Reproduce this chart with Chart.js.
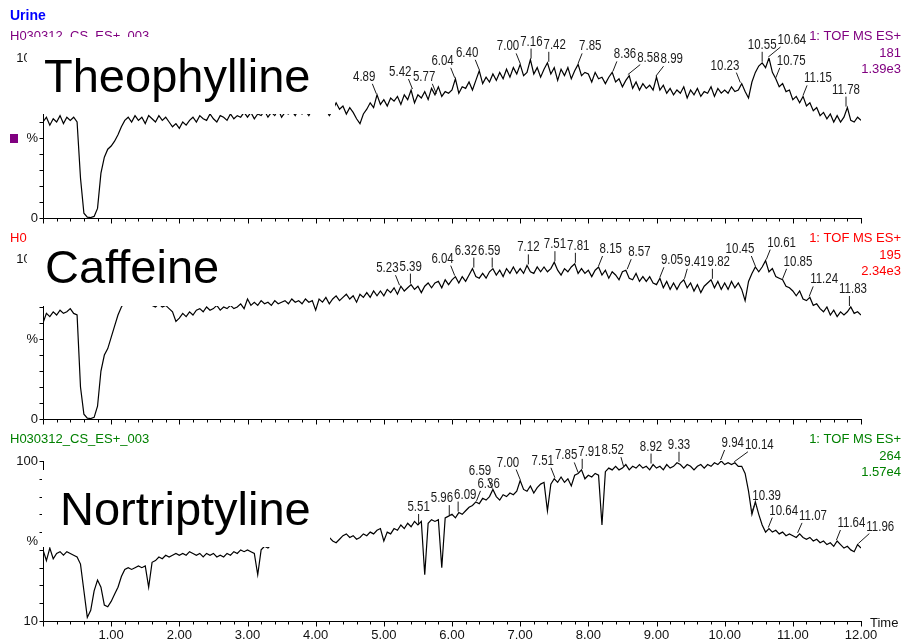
<!DOCTYPE html>
<html>
<head>
<meta charset="utf-8">
<title>Urine - H030312_CS_ES+_003</title>
<script src="https://cdn.jsdelivr.net/npm/chart.js@4.4.1/dist/chart.umd.min.js"></script>
<style>
  html, body { margin: 0; padding: 0; background: #fff; }
  #wrap { position: relative; width: 905px; height: 644px; overflow: hidden; }
  canvas { position: absolute; left: 0; }
</style>
</head>
<body>
<div id="wrap">
  <canvas id="theo" width="905" height="226" style="top:0px"></canvas>
  <canvas id="caff" width="905" height="202" style="top:226px"></canvas>
  <canvas id="nort" width="905" height="216" style="top:428px"></canvas>
</div>
<script>
// scan times, minutes
var times = [
  0.00,0.05,0.10,0.15,0.20,0.25,0.30,0.35,0.40,0.45,0.50,0.55,0.60,0.65,0.70,0.75,0.80,0.85,0.90,0.95,
  1.00,1.05,1.10,1.15,1.20,1.25,1.30,1.35,1.40,1.45,1.50,1.55,1.60,1.65,1.70,1.75,1.80,1.85,1.90,1.95,
  2.00,2.05,2.10,2.15,2.20,2.25,2.30,2.35,2.40,2.45,2.50,2.55,2.60,2.65,2.70,2.75,2.80,2.85,2.90,2.95,
  3.00,3.05,3.10,3.15,3.20,3.25,3.30,3.35,3.40,3.45,3.50,3.55,3.60,3.65,3.70,3.75,3.80,3.85,3.90,3.95,
  4.00,4.05,4.10,4.15,4.20,4.25,4.30,4.35,4.40,4.45,4.50,4.55,4.60,4.65,4.70,4.75,4.80,4.85,4.90,4.95,
  5.00,5.05,5.10,5.15,5.20,5.25,5.30,5.35,5.40,5.45,5.50,5.55,5.60,5.65,5.70,5.75,5.80,5.85,5.90,5.95,
  6.00,6.05,6.10,6.15,6.20,6.25,6.30,6.35,6.40,6.45,6.50,6.55,6.60,6.65,6.70,6.75,6.80,6.85,6.90,6.95,
  7.00,7.05,7.10,7.15,7.20,7.25,7.30,7.35,7.40,7.45,7.50,7.55,7.60,7.65,7.70,7.75,7.80,7.85,7.90,7.95,
  8.00,8.05,8.10,8.15,8.20,8.25,8.30,8.35,8.40,8.45,8.50,8.55,8.60,8.65,8.70,8.75,8.80,8.85,8.90,8.95,
  9.00,9.05,9.10,9.15,9.20,9.25,9.30,9.35,9.40,9.45,9.50,9.55,9.60,9.65,9.70,9.75,9.80,9.85,9.90,9.95,
  10.00,10.05,10.10,10.15,10.20,10.25,10.30,10.35,10.40,10.45,10.50,10.55,10.60,10.65,10.70,10.75,10.80,10.85,10.90,10.95,
  11.00,11.05,11.10,11.15,11.20,11.25,11.30,11.35,11.40,11.45,11.50,11.55,11.60,11.65,11.70,11.75,11.80,11.85,11.90,11.95,
  12.00
];

// relative intensity, %
var theophylline = [
  60,63,58,62,60,64,59,63,61,63,60,25,3,0.5,0.3,1,6,28,38,43,
  45,48,52,57,61,63,60,64,61,63,59,64,62,60,64,61,63,60,57,59,
  56,60,58,61,63,60,64,62,61,65,62,60,64,63,61,65,62,64,63,66,
  63,66,62,65,64,67,63,66,64,68,63,66,65,67,64,68,65,67,64,68,
  66,69,67,68,64,67,72,68,70,65,69,66,62,59,65,68,72,69,77,71,
  74,70,75,73,76,71,77,74,80,72,77,75,79,74,81,77,82,76,79,78,
  80,87,78,82,81,85,80,86,92,84,88,85,90,86,91,87,93,88,94,90,
  96,89,91,99,90,94,88,93,97,90,94,86,93,89,94,87,92,96,89,91,
  90,85,91,87,88,84,88,91,85,87,82,86,89,81,85,80,84,81,83,80,
  88,80,83,78,81,77,80,78,82,75,80,77,81,76,79,78,82,76,81,78,
  80,78,82,79,80,84,79,75,85,91,95,97,94,100,91,87,82,84,79,80,
  74,76,72,76,70,72,67,69,64,66,62,65,60,64,60,63,69,61,60,63,
  61
];
var caffeine = [
  60,66,64,67,65,68,66,67,69,66,65,20,3,0.5,0.3,1,8,30,40,44,
  51,58,65,70,73,75,74,76,75,77,74,72,71,70,72,70,71,69,67,61,
  63,66,64,67,65,68,69,67,70,68,69,71,68,70,69,71,69,70,72,69,
  75,71,73,71,74,72,73,71,74,72,73,74,72,75,73,74,72,75,73,74,
  68,75,73,76,72,75,77,74,76,78,75,77,73,78,76,79,76,80,77,80,
  77,81,79,82,78,83,80,82,84,81,83,79,83,85,82,85,86,82,87,84,
  87,89,85,89,86,90,94,89,88,91,88,92,94,90,93,89,94,91,95,91,
  94,91,96,92,91,95,92,95,92,94,98,93,90,94,92,95,97,91,94,91,
  93,89,93,95,90,93,88,92,90,87,92,93,88,87,91,86,89,86,89,85,
  84,88,82,86,81,85,81,85,87,82,85,80,84,79,83,85,87,82,86,81,
  85,81,86,82,85,81,74,86,91,95,92,95,99,92,94,89,88,87,83,82,
  80,77,80,75,74,76,71,72,69,67,70,65,68,64,67,65,67,70,66,67,
  65
];
var nortriptyline = [
  50,44,51,45,48,49,47,49,48,47,46,42,27,12,16,27,33,29,19,18,
  21,25,29,35,39,40,39,40,41,40,41,29,43,44,46,45,47,46,47,48,
  47,48,47,49,48,47,48,46,48,47,48,46,47,46,48,47,49,48,50,49,
  50,49,48,36,50,52,51,53,52,54,53,55,54,53,55,54,56,55,54,56,
  55,57,56,54,57,55,54,56,58,59,57,58,56,57,59,58,60,59,61,62,
  55,60,59,62,61,64,62,65,63,66,64,66,36,65,67,66,67,40,68,69,
  70,68,71,70,72,74,75,77,76,79,78,80,84,80,78,81,80,82,81,83,
  89,84,83,86,82,85,87,88,72,87,90,88,91,88,90,86,92,93,95,90,
  92,91,93,92,64,94,96,95,97,95,96,98,95,97,96,98,96,97,95,98,
  96,97,95,98,96,97,99,98,96,98,97,95,97,98,96,98,97,99,98,100,
  98,99,98,99,97,97,93,83,70,77,70,64,60,62,60,61,59,60,58,59,
  58,57,59,57,56,57,55,56,54,55,53,54,52,55,53,51,52,50,49,53,
  51
];

// labelled peaks (retention time)
var theoPeaks = [4.89,5.42,5.77,6.04,6.40,7.00,7.16,7.42,7.85,8.36,8.58,8.99,10.23,10.55,10.64,10.75,11.15,11.78];
var caffPeaks = [5.23,5.39,6.04,6.32,6.59,7.12,7.51,7.81,8.15,8.57,9.05,9.41,9.82,10.45,10.61,10.85,11.24,11.83];
var nortPeaks = [5.51,5.96,6.09,6.36,6.59,7.00,7.51,7.85,7.91,8.52,8.92,9.33,9.94,10.14,10.39,10.64,11.07,11.64,11.96];

var FONT = '"Liberation Sans", Arial, sans-serif';
var SQUEEZE = 0.82;

function meanBetween(values, t0, t1) {
  var s = 0, n = 0;
  for (var i = 0; i < times.length; i++) {
    if (times[i] >= t0 && times[i] <= t1) { s += values[i]; n++; }
  }
  return n ? s / n : null;
}

function peakLabels(chart, peaks, values) {
  var ctx = chart.ctx, xs = chart.scales.x, ys = chart.scales.y;
  ctx.font = '14px ' + FONT;
  ctx.fillStyle = '#1a1a1a';
  ctx.strokeStyle = '#1a1a1a';
  ctx.lineWidth = 1;
  ctx.textAlign = 'left';
  ctx.textBaseline = 'alphabetic';
  var placed = [];
  peaks.forEach(function (t) {
    var best = -1;
    for (var i = 0; i < times.length; i++) {
      if (Math.abs(times[i] - t) <= 0.03 && (best < 0 || values[i] > values[best])) best = i;
    }
    var px = xs.getPixelForValue(t);
    var py = ys.getPixelForValue(values[best]);
    var txt = t.toFixed(2);
    var w = ctx.measureText(txt).width * SQUEEZE;
    // text leans away from the rising/falling side of the trace
    var behind = meanBetween(values, t - 0.6, t), ahead = meanBetween(values, t, t + 0.6);
    var d = (ahead !== null && behind !== null) ? ahead - behind : 0;
    var left;
    if (d > 2.5) left = px - w - 1;
    else if (d < -2.5) left = px + 1;
    else left = px - w / 2;
    var base = py - 14;
    placed.forEach(function (b) {
      if (left < b.r + 1 && left + w > b.l && base > b.b - 11 && base - 11 < b.b) left = b.r + 1;
    });
    placed.push({ l: left, r: left + w, b: base });
    ctx.save();
    ctx.translate(left, base);
    ctx.scale(SQUEEZE, 1);
    ctx.fillText(txt, 0, 0);
    ctx.restore();
    var lx = Math.min(Math.max(px, left + 3), left + w - 3);
    ctx.beginPath();
    ctx.moveTo(lx, base + 3);
    ctx.lineTo(px, py - 1);
    ctx.stroke();
  });
}

var chromoPlugin = {
  id: 'chromo',
  afterDraw: function (chart, args, o) {
    var ctx = chart.ctx, xs = chart.scales.x, ys = chart.scales.y, a = chart.chartArea;
    var top = o.pageTop;
    ctx.save();

    // axes
    ctx.strokeStyle = '#000';
    ctx.lineWidth = 1;
    ctx.beginPath();
    var L = Math.round(a.left) + 0.5, B = Math.round(a.bottom) + 0.5;
    ctx.moveTo(L, Math.round(a.top));
    ctx.lineTo(L, B);
    ctx.lineTo(Math.round(a.right) + 1, B);
    xs.ticks.forEach(function (tk) {
      var px = Math.round(xs.getPixelForValue(tk.value)) + 0.5;
      var major = Math.abs(tk.value - Math.round(tk.value)) < 1e-6;
      ctx.moveTo(px, B);
      ctx.lineTo(px, B + (major ? 5 : 3));
    });
    ys.ticks.forEach(function (tk) {
      var py = Math.round(ys.getPixelForValue(tk.value)) + 0.5;
      ctx.moveTo(L, py);
      ctx.lineTo(L - 4, py);
    });
    ctx.stroke();

    // y labels
    ctx.fillStyle = '#111';
    ctx.font = '13px ' + FONT;
    ctx.textAlign = 'right';
    ctx.textBaseline = 'middle';
    ctx.fillText(String(ys.max), 38, ys.getPixelForValue(ys.max));
    ctx.fillText(String(ys.min), 38, ys.getPixelForValue(ys.min));
    ctx.fillText('%', 38, ys.getPixelForValue((ys.min + ys.max) / 2));

    // x labels
    if (o.xLabels) {
      ctx.textAlign = 'center';
      ctx.textBaseline = 'alphabetic';
      xs.ticks.forEach(function (tk) {
        var v = tk.value;
        if (v >= 1 && Math.abs(v - Math.round(v)) < 1e-6) {
          ctx.fillText(Math.round(v).toFixed(2), xs.getPixelForValue(v), 639 - top);
        }
      });
      ctx.textAlign = 'left';
      ctx.fillText('Time', 870, 627 - top);
    }

    // peak labels
    peakLabels(chart, o.peaks, o.values);

    // header texts
    ctx.textBaseline = 'alphabetic';
    if (o.title) {
      ctx.fillStyle = '#0000ff';
      ctx.font = 'bold 14px ' + FONT;
      ctx.textAlign = 'left';
      ctx.fillText(o.title, 10, 20 - top);
    }
    ctx.fillStyle = o.color;
    ctx.font = '13px ' + FONT;
    ctx.textAlign = 'left';
    ctx.fillText(o.sample, 10, o.headY - top);
    ctx.textAlign = 'right';
    o.right.forEach(function (s, i) {
      ctx.fillText(s, 901, o.headY - top + i * 16.5);
    });
    if (o.marker) {
      ctx.fillRect(10, 134 - top, 8, 9);
    }

    // compound name on a white box
    var bx = o.box;
    ctx.fillStyle = '#fff';
    ctx.fillRect(bx[0], bx[1] - top, bx[2] - bx[0], bx[3] - bx[1]);
    ctx.fillStyle = '#000';
    ctx.font = '47px ' + FONT;
    ctx.textAlign = 'left';
    ctx.fillText(o.name, o.nameX, o.nameY - top);

    ctx.restore();
  }
};

function makePanel(id, pageTop, areaTop, areaBottom, ymin, ymax, values, opts) {
  var canvas = document.getElementById(id);
  var H = canvas.height;
  var pts = values.map(function (v, i) { return { x: times[i], y: v }; });
  opts.pageTop = pageTop;
  opts.values = values;
  return new Chart(canvas, {
    type: 'line',
    data: {
      datasets: [{
        data: pts,
        borderColor: '#000',
        borderWidth: 1.2,
        pointRadius: 0,
        tension: 0,
        fill: false
      }]
    },
    options: {
      responsive: false,
      animation: false,
      devicePixelRatio: 1,
      layout: { padding: { left: 0, right: 905 - 861, top: areaTop - pageTop, bottom: 0 } },
      plugins: {
        legend: { display: false },
        tooltip: { enabled: false },
        chromo: opts
      },
      scales: {
        x: {
          type: 'linear', min: 0, max: 12,
          ticks: { display: false, stepSize: 0.2 },
          grid: { display: false },
          border: { display: false },
          afterFit: function (s) { s.height = H - (areaBottom - pageTop); }
        },
        y: {
          min: ymin, max: ymax,
          ticks: { display: false, stepSize: 10 },
          grid: { display: false },
          border: { display: false },
          afterFit: function (s) { s.width = 43; }
        }
      }
    },
    plugins: [chromoPlugin]
  });
}

makePanel('theo', 0, 58, 218, 0, 100, theophylline, {
  title: 'Urine', sample: 'H030312_CS_ES+_003', headY: 40, color: '#800080',
  right: ['1: TOF MS ES+', '181', '1.39e3'], marker: true,
  peaks: theoPeaks, name: 'Theophylline', nameX: 44, nameY: 92,
  box: [27, 37, 335, 114], xLabels: false
});
makePanel('caff', 226, 259, 419, 0, 100, caffeine, {
  sample: 'H030312_CS_ES+_003', headY: 242, color: '#ff0000',
  right: ['1: TOF MS ES+', '195', '2.34e3'],
  peaks: caffPeaks, name: 'Caffeine', nameX: 45, nameY: 283,
  box: [27, 229, 232, 306], xLabels: false
});
makePanel('nort', 428, 461, 621, 10, 100, nortriptyline, {
  sample: 'H030312_CS_ES+_003', headY: 443, color: '#008000',
  right: ['1: TOF MS ES+', '264', '1.57e4'],
  peaks: nortPeaks, name: 'Nortriptyline', nameX: 60, nameY: 525,
  box: [42, 470, 330, 547], xLabels: true
});
</script>
</body>
</html>
